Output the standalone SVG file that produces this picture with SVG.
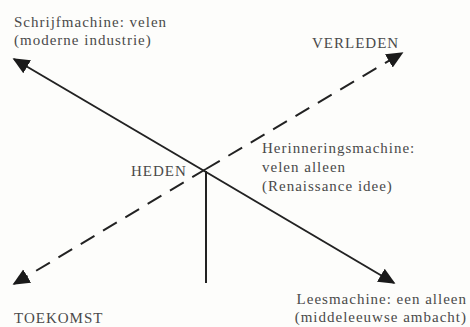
<svg xmlns="http://www.w3.org/2000/svg" width="470" height="327" viewBox="0 0 470 327">
<defs>
<style>
text{font-family:"Liberation Serif","Times New Roman",serif;font-size:15px;fill:#4a4a4a;letter-spacing:1px}
.ln{stroke:#222;stroke-width:2;fill:none}
.dash{stroke-dasharray:16,10}
</style>
<marker id="ah" viewBox="0 0 10 10" refX="9" refY="5" markerWidth="8.5" markerHeight="8.5" orient="auto" markerUnits="strokeWidth">
<path d="M0,0.5 L10,5 L0,9.5 z" fill="#1a1a1a"/>
</marker>
</defs>
<rect width="470" height="327" fill="#fdfdfb"/>
<g id="connectors">
<line class="ln" x1="206" y1="172" x2="14" y2="59" marker-end="url(#ah)"/>
<line class="ln" x1="206" y1="172" x2="394" y2="283" marker-end="url(#ah)"/>
<line class="ln dash" x1="206" y1="169" x2="402" y2="53" marker-end="url(#ah)"/>
<line class="ln dash" x1="206" y1="169" x2="14" y2="284" marker-end="url(#ah)"/>
<line class="ln" x1="206" y1="171" x2="206" y2="283"/>
</g>
<g id="schrijfmachine"><text x="14" y="27">Schrijfmachine: velen</text><text x="14" y="45">(moderne industrie)</text></g>
<g id="verleden"><text x="312" y="48">VERLEDEN</text></g>
<g id="heden"><text x="131" y="176">HEDEN</text></g>
<g id="herinneringsmachine"><text x="262" y="153">Herinneringsmachine:</text><text x="262" y="172">velen alleen</text><text x="262" y="191">(Renaissance idee)</text></g>
<g id="toekomst"><text x="14" y="323">TOEKOMST</text></g>
<g id="leesmachine"><text x="467" y="304" text-anchor="end">Leesmachine: een alleen</text><text x="467" y="322" text-anchor="end">(middeleeuwse ambacht)</text></g>
</svg>
